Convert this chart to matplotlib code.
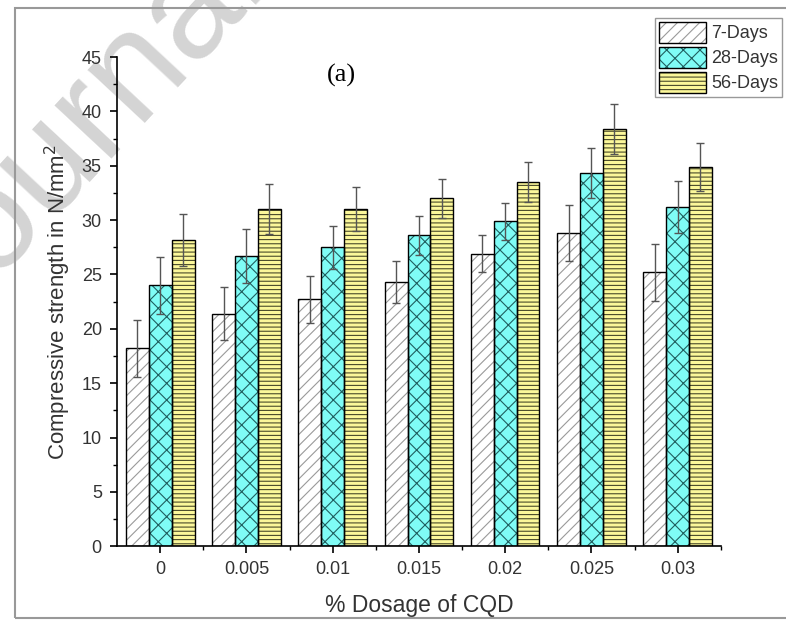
import numpy as np
import matplotlib.pyplot as plt
from matplotlib.ticker import MultipleLocator, FixedLocator
from matplotlib.legend_handler import HandlerTuple
from matplotlib.patches import Rectangle, Patch

plt.rcParams['font.family'] = ['Liberation Sans', 'DejaVu Sans']
plt.rcParams['hatch.linewidth'] = 0.8

dosage = ['0', '0.005', '0.01', '0.015', '0.02', '0.025', '0.03']
labels = ['7-Days', '28-Days', '56-Days']
days7 = [18.2, 21.4, 22.7, 24.3, 26.9, 28.8, 25.2]
days28 = [24.0, 26.7, 27.5, 28.6, 29.9, 34.3, 31.2]
days56 = [28.2, 31.0, 31.0, 32.0, 33.5, 38.4, 34.9]
err7 = [2.6, 2.4, 2.2, 1.9, 1.7, 2.6, 2.6]
err28 = [2.6, 2.5, 2.0, 1.8, 1.7, 2.3, 2.4]
err56 = [2.4, 2.3, 2.0, 1.8, 1.8, 2.3, 2.2]

faces = ['white', '#7ffcf6', '#fbf79a']
hatch_cols = ['#9a9a9a', '#1f5f5f', '#4a4a2a']
hatches = ['///', 'xx', '----']
offsets = [-0.265, 0.0, 0.265]
w = 0.265

fig = plt.figure(figsize=(7.86, 6.2), dpi=100)
ax = fig.add_axes([0.149, 0.119, 0.768, 0.789])
ax.patch.set_visible(False)
x = np.arange(len(dosage))

# faint watermark behind the chart
fig.text(-0.07, 0.455, 'Journal Pre-proof', rotation=47, rotation_mode='anchor',
         fontsize=105, color='#d4d4d4', ha='left', va='baseline', zorder=-1)

handles = []
for vals, errs, fc, hc, h, off in zip([days7, days28, days56], [err7, err28, err56],
                                      faces, hatch_cols, hatches, offsets):
    ax.bar(x + off, vals, w, color=fc, edgecolor=hc, hatch=h, linewidth=0, zorder=2)
    ax.bar(x + off, vals, w, fill=False, edgecolor='black', linewidth=1.0, zorder=3)
    ax.errorbar(x + off, vals, yerr=errs, fmt='none', ecolor='#555555',
                elinewidth=1.0, capsize=3, capthick=1.0, zorder=4)
    handles.append((Patch(facecolor=fc, edgecolor=hc, hatch=h, linewidth=0),
                    Patch(fill=False, edgecolor='black', linewidth=1.0)))

ax.set_xlim(-0.5, 6.5)
ax.set_ylim(0, 45)
ax.set_xticks(x)
ax.set_xticklabels(dosage)
ax.xaxis.set_minor_locator(FixedLocator(np.arange(0.5, 7, 1)))
ax.yaxis.set_major_locator(MultipleLocator(5))
ax.yaxis.set_minor_locator(MultipleLocator(2.5))
for s in ['top', 'right']:
    ax.spines[s].set_visible(False)
for s in ['left', 'bottom']:
    ax.spines[s].set_linewidth(1.2)
ax.tick_params(which='major', direction='out', length=5, width=1.2,
               labelsize=13, labelcolor='#333333', pad=6)
ax.tick_params(which='minor', direction='out', length=3, width=1.0)
ax.set_ylabel('Compressive strength in N/mm$^2$', fontsize=16, color='#333333', labelpad=6)
ax.set_xlabel('% Dosage of CQD', fontsize=16.5, color='#333333', labelpad=11)

fig.text(0.434, 0.879, '(a)', fontsize=19, family='Liberation Serif',
         ha='center', va='center')

fig.legend(handles, labels, handler_map={tuple: HandlerTuple(ndivide=1)},
           loc='upper right', bbox_to_anchor=(0.995, 0.971), fontsize=13,
           frameon=True, fancybox=False, edgecolor='#999999', framealpha=1,
           handlelength=2.6, handleheight=1.45, labelspacing=0.2,
           handletextpad=0.3, borderpad=0.2, borderaxespad=0,
           labelcolor='#333333')

fig.patches.append(Rectangle((0.019, 0.003), 1.0, 0.984, transform=fig.transFigure,
                             fill=False, edgecolor='#999999', linewidth=1.5))

fig.savefig('out.png', dpi=100)
